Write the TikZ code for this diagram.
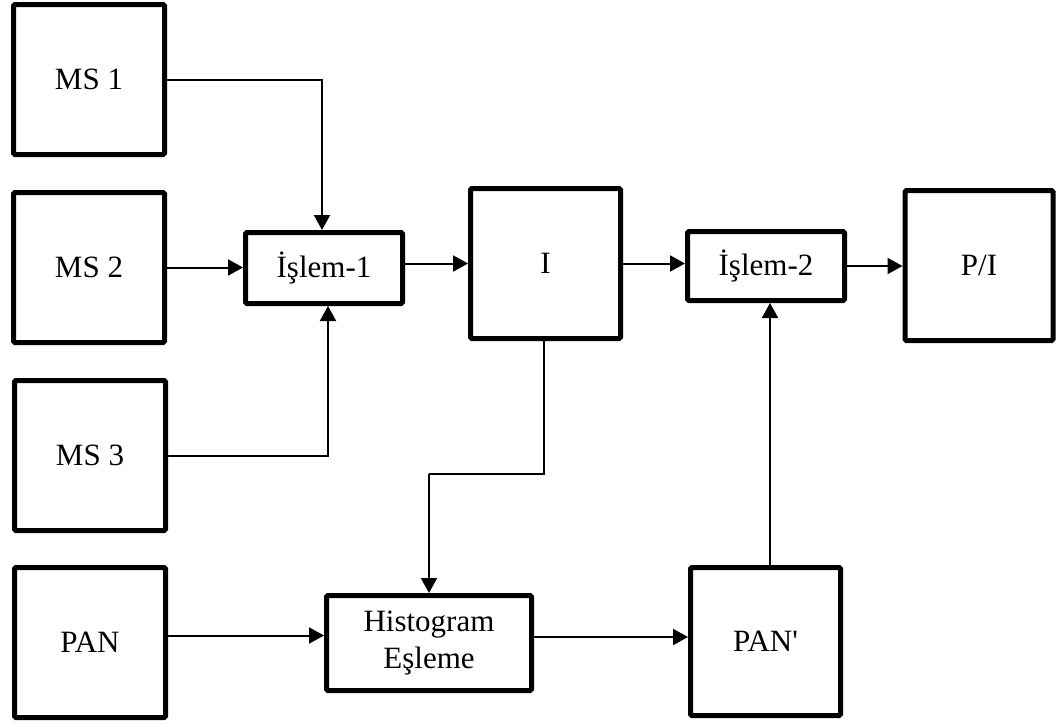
\documentclass[tikz,border=0pt]{standalone}
\usepackage{fontspec}
\setmainfont{Liberation Serif}
\usetikzlibrary{arrows.meta,calc}

\tikzset{
  block/.style={draw, line width=5pt, rounded corners=1.5pt, inner sep=0pt,
                align=center, font=\fontsize{31}{37}\selectfont},
  conn/.style={line width=2pt, -{Triangle[length=15pt,width=16pt]}},
  link/.style={line width=2pt}
}

\begin{document}
\begin{tikzpicture}[x=1pt, y=-1pt]
  \useasboundingbox (0,0) rectangle (1057,726);

  % input images
  \node[block, minimum width=151pt, minimum height=150pt] (ms1) at (89,79.5)  {MS 1};
  \node[block, minimum width=151pt, minimum height=150pt] (ms2) at (89,267.5) {MS 2};
  \node[block, minimum width=151pt, minimum height=150pt] (ms3) at (90,455.5) {MS 3};
  \node[block, minimum width=151pt, minimum height=150pt] (pan) at (90,642.5) {PAN};

  % processing chain
  \node[block, minimum width=157pt, minimum height=71pt]  (islem1) at (324,268)   {İşlem-1};
  \node[block, minimum width=150pt, minimum height=150pt] (ii)     at (545.5,263.5) {\raisebox{-3pt}{I}};
  \node[block, minimum width=157pt, minimum height=69pt]  (islem2) at (766,266)   {İşlem-2};
  \node[block, minimum width=148pt, minimum height=150pt] (pi)     at (979,265.5) {P/I};
  \node[block, minimum width=205pt, minimum height=95pt]  (hist)   at (429,643)   {Histogram\\Eşleme};
  \node[block, minimum width=150pt, minimum height=148pt] (pan2)   at (765.5,641.5) {PAN\textquotesingle};

  % multispectral bands into İşlem-1
  \draw[conn] (ms1.east) -| ([xshift=-2pt]islem1.north);
  \draw[conn] (ms2.east) -- (ms2.east -| islem1.west);
  \draw[conn] (ms3.east) -| ([xshift=4pt]islem1.south);

  % main chain
  \draw[conn] (ii.west -| islem1.east) -- (ii.west);
  \draw[conn] (ii.east) -- (ii.east -| islem2.west);
  \draw[conn] (islem2.east) -- (islem2.east -| pi.west);

  % intensity to histogram matching
  \coordinate (turn) at (0,474);
  \draw[link] ([xshift=-2pt]ii.south) |- (turn -| hist.north);
  \draw[conn] (turn -| hist.north) -- (hist.north);

  % panchromatic branch
  \draw[conn] ([yshift=7pt]pan.east) -- ([yshift=7pt]pan.east -| hist.west);
  \draw[conn] ([yshift=6pt]hist.east) -- ([yshift=6pt]hist.east -| pan2.west);
  \draw[conn] ([xshift=4.5pt]pan2.north) -- ([xshift=4.5pt]pan2.north |- islem2.south);
\end{tikzpicture}
\end{document}
